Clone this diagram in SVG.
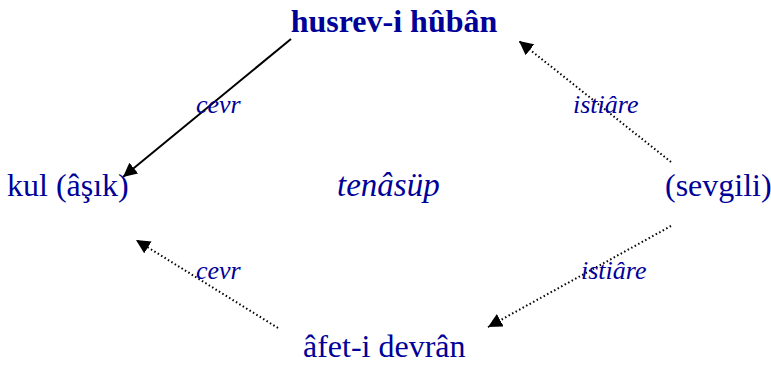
<svg xmlns="http://www.w3.org/2000/svg" width="771" height="365" viewBox="0 0 771 365">
<style>
.n{font-family:'Liberation Serif','Times New Roman','DejaVu Serif',serif;font-size:32px;fill:#000099}
.b{font-weight:bold}
.i{font-style:italic;font-size:33px}
.l{font-family:'Liberation Serif','Times New Roman','DejaVu Serif',serif;font-size:26px;font-style:italic;fill:#000099}
.s{stroke:#000;stroke-width:2;fill:none}
.d{stroke:#000;stroke-width:2;fill:none;stroke-dasharray:1.5 2.5}
</style>
<defs>
<marker id="ah" viewBox="0 0 10 10" refX="10" refY="5" markerWidth="14" markerHeight="14" markerUnits="userSpaceOnUse" orient="auto">
<path d="M0,0 L10,5 L0,10 z" fill="#000"/>
</marker>
</defs>
<rect width="771" height="365" fill="#fff"/>
<g id="connectors">
<line class="s" x1="291" y1="39" x2="123" y2="177" marker-end="url(#ah)"/>
<line class="d" x1="671" y1="162" x2="519" y2="41" marker-end="url(#ah)"/>
<line class="d" x1="278" y1="328" x2="136" y2="240" marker-end="url(#ah)"/>
<line class="d" x1="671" y1="226" x2="488" y2="327" marker-end="url(#ah)"/>
</g>
<g id="labels">
<text class="l" x="196" y="113">cevr</text>
<text class="l" x="573" y="113">istiâre</text>
<text class="l" x="196" y="279">cevr</text>
<text class="l" x="581" y="279">istiâre</text>
</g>
<g id="n-husrev"><text class="n b" x="394" y="32" text-anchor="middle">husrev-i hûbân</text></g>
<g id="n-kul"><text class="n" x="7" y="196">kul (âşık)</text></g>
<g id="n-tenasup"><text class="n i" x="337" y="196">tenâsüp</text></g>
<g id="n-sevgili"><text class="n" x="665" y="196" font-size="31">(sevgili)</text></g>
<g id="n-afet"><text class="n" x="303" y="357">âfet-i devrân</text></g>
</svg>
